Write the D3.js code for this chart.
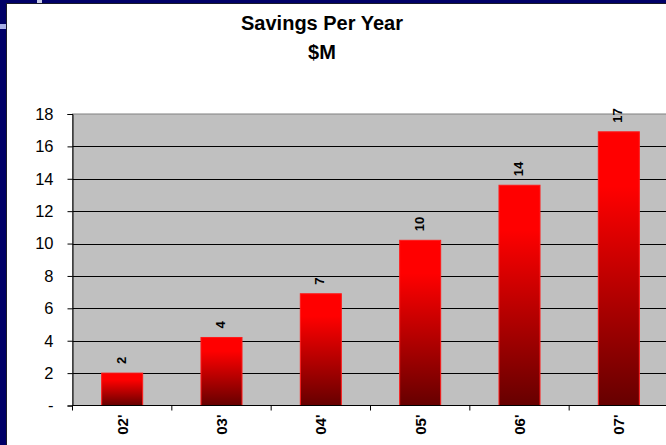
<!DOCTYPE html>
<html>
<head>
<meta charset="utf-8">
<script src="https://cdn.jsdelivr.net/npm/d3@7"></script>
<style>
  html, body { margin: 0; padding: 0; background: #000068; }
  svg { display: block; }
</style>
</head>
<body>
<svg id="chart" width="666" height="445"></svg>
<script>
// Savings per fiscal year, in $M
const years = ["02'", "03'", "04'", "05'", "06'", "07'"];
const savings = [2.0, 4.2, 6.9, 10.2, 13.6, 16.9];
const yTicks = [0, 2, 4, 6, 8, 10, 12, 14, 16, 18];
const titleLines = ["Savings Per Year", "$M"];

const W = 666, H = 445;
const plot = { left: 72.5, right: 668.5, top: 114, bottom: 405.5 };
const font = "Liberation Sans, Arial, Helvetica, sans-serif";

const svg = d3.select("#chart");

// slide backdrop and white chart panel
svg.append("rect").attr("width", W).attr("height", H).attr("fill", "#000068");
svg.append("rect").attr("x", 0).attr("y", 24).attr("width", 6).attr("height", 5).attr("fill", "#a8b0e8");
svg.append("rect").attr("x", 37).attr("y", 0).attr("width", 5).attr("height", 3).attr("fill", "#c8cce8");
svg.append("rect").attr("x", 6).attr("y", 3).attr("width", W - 6).attr("height", H - 3).attr("fill", "#1a1a2a");
svg.append("rect").attr("x", 7).attr("y", 4).attr("width", W - 7).attr("height", H - 4).attr("fill", "#ffffff");

const defs = svg.append("defs");
const grad = defs.append("linearGradient")
  .attr("id", "barFill").attr("x1", 0).attr("y1", 0).attr("x2", 0).attr("y2", 1);
grad.append("stop").attr("offset", "0%").attr("stop-color", "#ff0000");
grad.append("stop").attr("offset", "20%").attr("stop-color", "#ff0000");
grad.append("stop").attr("offset", "100%").attr("stop-color", "#660000");

const x = d3.scaleBand().domain(years).range([plot.left, plot.right])
  .paddingInner(0.587).paddingOuter(0.2935);
const y = d3.scaleLinear().domain([0, 18]).range([plot.bottom, plot.top]);

// plot area
svg.append("rect")
  .attr("x", plot.left).attr("y", plot.top)
  .attr("width", plot.right - plot.left).attr("height", plot.bottom - plot.top)
  .attr("fill", "#c0c0c0").attr("stroke", "#808080").attr("stroke-width", 1);

// horizontal gridlines
svg.append("g").selectAll("line")
  .data(yTicks.filter(t => t > 0 && t < 18))
  .join("line")
  .attr("x1", plot.left).attr("x2", plot.right)
  .attr("y1", d => Math.round(y(d)) + 0.5).attr("y2", d => Math.round(y(d)) + 0.5)
  .attr("stroke", "#000").attr("stroke-width", 1);

// bars
svg.append("g").selectAll("rect")
  .data(years.map((yr, i) => ({ yr, v: savings[i] })))
  .join("rect")
  .attr("x", d => x(d.yr))
  .attr("y", d => y(d.v))
  .attr("width", x.bandwidth())
  .attr("height", d => y(0) - y(d.v))
  .attr("fill", "url(#barFill)")
  .attr("stroke", "#ff1a1a").attr("stroke-width", 1);

// value labels, rotated
svg.append("g").selectAll("text")
  .data(years.map((yr, i) => ({ yr, v: savings[i] })))
  .join("text")
  .attr("transform", d => `translate(${x(d.yr) + x.bandwidth() / 2 + 3.5},${y(d.v) - 9}) rotate(-90)`)
  .attr("text-anchor", "start")
  .attr("font-family", font).attr("font-weight", "bold").attr("font-size", 13)
  .attr("fill", "#000")
  .text(d => d3.format(".0f")(d.v));

// y axis
const yAxis = d3.axisLeft(y).tickValues(yTicks).tickSize(5).tickPadding(14)
  .tickFormat(d => d === 0 ? "-" : d);
const gy = svg.append("g").attr("transform", `translate(${plot.left},0)`).call(yAxis);
gy.select(".domain").attr("stroke", "#000");
gy.selectAll(".tick line").attr("stroke", "#000");
gy.selectAll(".tick text")
  .attr("font-family", font).attr("font-size", 16.5).attr("fill", "#000");

// x axis with ticks at category boundaries
const gx = svg.append("g").attr("transform", `translate(0,${plot.bottom})`);
gx.append("line").attr("x1", plot.left).attr("x2", plot.right)
  .attr("stroke", "#000").attr("stroke-width", 1.2);
const step = x.step();
gx.selectAll("line.tk")
  .data(d3.range(years.length + 1))
  .join("line").attr("class", "tk")
  .attr("x1", i => plot.left + i * step).attr("x2", i => plot.left + i * step)
  .attr("y1", 0).attr("y2", 5).attr("stroke", "#000");
gx.selectAll("text")
  .data(years)
  .join("text")
  .attr("transform", d => `translate(${x(d) + x.bandwidth() / 2 + 5.5},9) rotate(-90)`)
  .attr("text-anchor", "end")
  .attr("font-family", font).attr("font-weight", "bold").attr("font-size", 15)
  .attr("fill", "#000")
  .text(d => d);

// title
svg.append("g").selectAll("text")
  .data(titleLines)
  .join("text")
  .attr("x", 322).attr("y", (d, i) => 30 + i * 29)
  .attr("text-anchor", "middle")
  .attr("font-family", font).attr("font-weight", "bold").attr("font-size", 20)
  .attr("fill", "#000")
  .text(d => d);
</script>
</body>
</html>
